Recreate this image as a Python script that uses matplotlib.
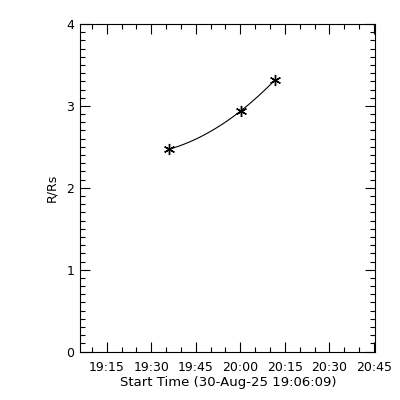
import numpy as np
import matplotlib
matplotlib.use('Agg')
import matplotlib.pyplot as plt
from matplotlib.ticker import MultipleLocator, FuncFormatter

start_label = '30-Aug-25 19:06:09'
start_sec = 19*3600 + 6*60 + 9

times = ['19:35:55', '20:00:10', '20:11:45']
heights = [2.47, 2.94, 3.32]

def to_sec(t):
    h, m, s = [int(v) for v in t.split(':')]
    return h*3600 + m*60 + s - start_sec

x = np.array([to_sec(t) for t in times], dtype=float)
y = np.array(heights)

# quadratic fit drawn between first and last point
coef = np.polyfit(x, y, 2)
xf = np.linspace(x[0], x[-1], 100)
yf = np.polyval(coef, xf)

fig = plt.figure(figsize=(4, 4), dpi=100)
ax = fig.add_axes([0.201, 0.121, 0.737, 0.819])
ax.plot(xf, yf, color='black', lw=0.8)
ax.plot(x, y, ls='none', marker=(6, 2, 0), ms=8, mew=1.0, color='black')

ax.set_xlim(0, 5955)
ax.set_ylim(0, 4)

def fmt(v, pos):
    t = int(round(v + start_sec))
    return '%02d:%02d' % (t // 3600, (t % 3600) // 60)

first = 19*3600 + 15*60 - start_sec
ax.set_xticks(np.arange(first, 5960, 900))
ax.xaxis.set_major_formatter(FuncFormatter(fmt))
ax.set_xticks(np.arange(first - 300, 5960, 300), minor=True)
ax.yaxis.set_major_locator(MultipleLocator(1))
ax.yaxis.set_minor_locator(MultipleLocator(0.1))

ax.tick_params(which='both', direction='in', top=True, right=True,
               labelsize=9, width=0.8)
ax.tick_params(axis='x', pad=7)
ax.tick_params(axis='y', pad=4.5)
ax.tick_params(which='major', length=7)
ax.tick_params(which='minor', length=3.5)
for s in ax.spines.values():
    s.set_linewidth(0.8)

ax.set_xlabel('Start Time (%s)' % start_label, fontsize=9.5, labelpad=1)
ax.set_ylabel('R/Rs', fontsize=9, labelpad=6)

fig.savefig('out.png', dpi=100)
